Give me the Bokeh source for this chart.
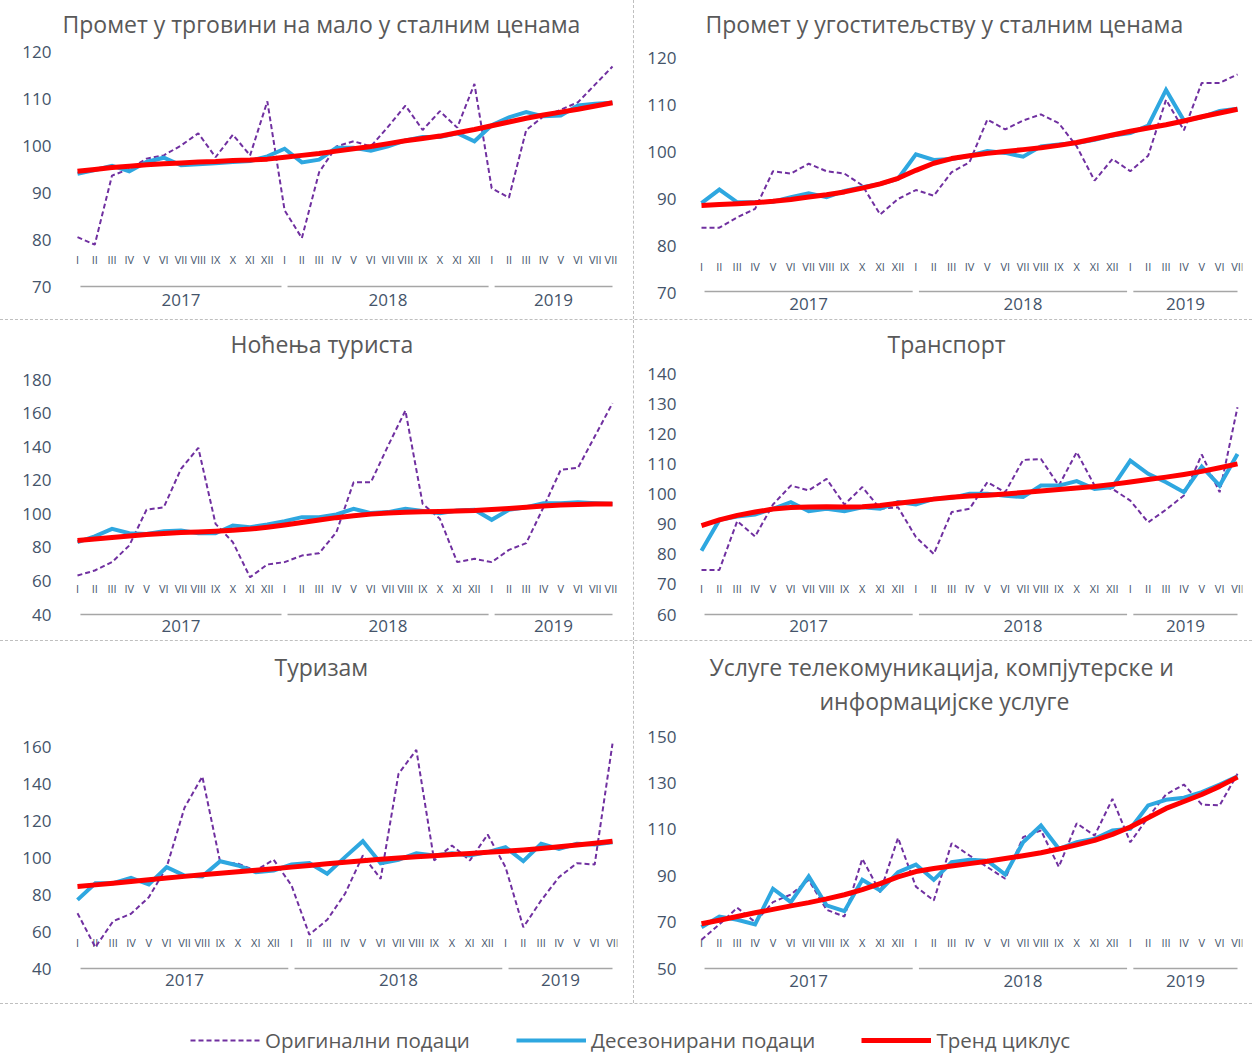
from bokeh.plotting import figure
from bokeh.models import Range1d, FixedTicker, Title, ColumnDataSource, Legend, LegendItem, Div
from bokeh.layouts import column, row
from bokeh.embed import file_html
from bokeh.resources import INLINE
from bokeh.core.properties import value

MONTHS = ["I", "II", "III", "IV", "V", "VI", "VII", "VIII", "IX", "X", "XI", "XII"]
YEARS = ["2017", "2018", "2019"]

# ---- Промет у трговини на мало (I 2017 - VIII 2019)
trade_orig = [80.5, 78.9, 93.6, 95.0, 97.2, 97.9, 100.0, 102.6, 97.5, 102.3, 97.9, 109.4,
              86.2, 80.3, 94.3, 99.8, 100.9, 99.8, 104.0, 108.5, 103.3, 107.3, 103.8, 113.1,
              90.9, 88.9, 103.3, 106.2, 107.6, 109.2, 113.0, 116.8]
trade_sa = [94.0, 94.8, 95.7, 94.5, 96.5, 97.4, 95.8, 96.0, 96.2, 96.5, 96.7, 97.7,
            99.3, 96.4, 97.0, 99.5, 99.5, 98.9, 99.8, 101.1, 101.8, 101.8, 102.6, 100.9,
            104.3, 106.0, 107.1, 106.2, 106.4, 108.5, 108.9, 109.1]
trade_trend = [94.5, 94.9, 95.3, 95.6, 95.9, 96.1, 96.3, 96.5, 96.6, 96.8, 96.9, 97.1,
               97.5, 97.9, 98.3, 98.8, 99.3, 99.8, 100.4, 101.0, 101.5, 102.0, 102.7, 103.4,
               104.2, 105.0, 105.8, 106.5, 107.1, 107.7, 108.4, 109.1]

# ---- Промет у угоститељству (I 2017 - VII 2019)
hosp_orig = [83.8, 83.8, 86.0, 87.8, 95.8, 95.3, 97.4, 95.8, 95.3, 92.8, 86.6, 89.9,
             91.8, 90.6, 95.6, 97.7, 106.8, 104.7, 106.6, 107.9, 106.0, 101.1, 93.8, 98.4,
             95.8, 99.1, 111.0, 104.5, 114.6, 114.6, 116.4]
hosp_sa = [89.0, 91.9, 89.2, 89.2, 89.3, 90.3, 91.1, 90.3, 91.6, 92.4, 93.1, 94.2,
           99.4, 98.2, 98.4, 99.1, 100.1, 99.7, 98.9, 101.1, 101.5, 101.8, 102.5, 103.4,
           103.9, 105.5, 113.1, 106.6, 107.3, 108.6, 109.1]
hosp_trend = [88.5, 88.7, 88.9, 89.1, 89.4, 89.8, 90.3, 90.8, 91.4, 92.2, 93.1, 94.3,
              96.0, 97.5, 98.5, 99.1, 99.6, 100.0, 100.4, 100.8, 101.3, 101.9, 102.7, 103.5,
              104.3, 105.0, 105.7, 106.5, 107.4, 108.2, 109.0]

# ---- Ноћења туриста (I 2017 - VIII 2019)
nights_orig = [63.2, 66.2, 71.2, 81.1, 102.4, 103.9, 126.8, 139.3, 94.0, 83.1, 62.2, 69.8,
               71.2, 75.1, 76.5, 89.0, 118.8, 118.8, 140.6, 161.5, 105.9, 97.0, 71.2, 73.2,
               71.2, 78.5, 82.5, 103.9, 126.2, 127.4, 146.6, 165.9]
nights_sa = [83.1, 86.5, 91.0, 88.4, 88.0, 89.6, 90.0, 88.4, 88.4, 93.0, 92.0, 93.6,
             95.6, 98.0, 98.0, 99.6, 103.0, 100.4, 101.0, 103.0, 101.6, 100.4, 102.0, 102.4,
             96.4, 102.4, 103.9, 106.3, 106.3, 106.9, 106.3, 105.9]
nights_trend = [84.1, 85.0, 85.9, 86.8, 87.7, 88.3, 88.8, 89.2, 89.6, 90.2, 90.9, 92.0,
                93.3, 94.8, 96.3, 97.7, 98.8, 99.8, 100.5, 100.9, 101.2, 101.4, 101.7, 102.0,
                102.6, 103.2, 103.9, 104.6, 105.2, 105.6, 105.8, 105.9]

# ---- Транспорт (I 2017 - VII 2019)
transp_orig = [74.8, 74.8, 91.0, 85.9, 96.5, 102.8, 101.2, 105.0, 96.5, 102.3, 95.1, 95.6,
               85.7, 80.1, 94.0, 95.1, 103.9, 100.6, 111.3, 111.6, 102.8, 113.9, 102.8, 101.7,
               97.8, 90.6, 94.8, 99.5, 113.1, 100.6, 128.8]
transp_sa = [81.2, 91.4, 92.5, 93.2, 95.1, 97.3, 94.3, 95.1, 94.3, 95.6, 95.1, 97.3,
             96.5, 98.4, 98.7, 100.1, 100.1, 99.4, 99.0, 102.8, 102.8, 104.3, 101.7, 102.3,
             111.1, 106.7, 103.9, 100.6, 109.1, 102.8, 113.3]
transp_trend = [89.5, 91.4, 92.9, 94.0, 95.0, 95.5, 95.7, 95.8, 95.7, 95.8, 96.2, 96.9,
                97.6, 98.3, 98.9, 99.3, 99.6, 100.0, 100.5, 101.0, 101.5, 102.0, 102.5, 103.2,
                104.0, 104.8, 105.6, 106.5, 107.5, 108.7, 110.0]

# ---- Туризам (I 2017 - VII 2019)
tour_orig = [69.9, 51.5, 65.6, 69.6, 78.5, 94.8, 126.9, 143.8, 97.5, 96.6, 93.0, 98.8,
             84.9, 58.3, 66.3, 80.4, 101.1, 88.5, 145.2, 158.2, 98.4, 106.5, 98.4, 112.4,
             94.8, 62.3, 76.8, 89.4, 96.9, 96.2, 161.5]
tour_sa = [77.1, 86.1, 86.1, 89.0, 85.4, 94.8, 90.3, 89.8, 98.0, 95.7, 92.1, 93.0,
           96.2, 97.0, 91.2, 100.2, 108.8, 96.9, 98.8, 102.3, 101.1, 102.3, 101.1, 102.9,
           105.6, 98.0, 107.4, 104.7, 107.4, 107.0, 108.3]
tour_trend = [84.3, 85.2, 86.1, 87.0, 88.0, 88.9, 89.8, 90.7, 91.5, 92.3, 93.1, 93.9,
              94.8, 95.7, 96.6, 97.4, 98.2, 99.0, 99.7, 100.4, 101.0, 101.6, 102.2, 102.8,
              103.4, 104.1, 104.9, 105.8, 106.7, 107.7, 108.8]

# ---- Услуге телекомуникација (I 2017 - VII 2019)
tel_orig = [62.4, 69.0, 76.2, 70.0, 78.6, 81.9, 88.2, 75.3, 72.4, 97.3, 82.9, 106.3,
            85.3, 79.3, 104.0, 98.7, 93.7, 88.7, 106.6, 109.5, 93.8, 112.6, 107.3, 123.1,
            104.4, 115.2, 125.0, 129.3, 120.7, 120.3, 133.9]
tel_sa = [67.8, 72.4, 71.0, 69.0, 84.4, 78.6, 89.7, 77.2, 74.7, 88.2, 83.6, 91.5,
          94.8, 88.2, 95.8, 96.9, 96.5, 90.5, 104.4, 111.6, 101.6, 104.4, 105.9, 109.5,
          110.2, 120.3, 122.7, 123.6, 126.0, 129.3, 132.8]
tel_trend = [69.3, 70.8, 72.4, 74.0, 75.5, 77.0, 78.4, 80.0, 81.8, 84.0, 86.6, 89.5,
             91.8, 93.1, 94.2, 95.2, 96.2, 97.4, 98.6, 99.9, 101.5, 103.3, 105.2, 107.8,
             111.0, 115.0, 119.0, 122.0, 125.0, 128.5, 132.5]

# title lines (top line first); a blank line keeps a one-line title high up
titles = [["Промет у трговини на мало у сталним ценама"],
          ["Промет у угоститељству у сталним ценама"],
          ["Ноћења туриста"],
          ["Транспорт"],
          ["Туризам", " "],
          ["Услуге телекомуникација, компјутерске и", "информацијске услуге"]]
ticks = [[70, 80, 90, 100, 110, 120], [70, 80, 90, 100, 110, 120],
         [40, 60, 80, 100, 120, 140, 160, 180], [60, 70, 80, 90, 100, 110, 120, 130, 140],
         [40, 60, 80, 100, 120, 140, 160], [50, 70, 90, 110, 130, 150]]
legend_labels = ["Оригинални подаци", "Десезонирани подаци", "Тренд циклус"]

FONT = "Open Sans"
PURPLE = "#7030A0"
BLUE = "#2EA7E0"
RED = "#FF0000"
TXT = "#44546A"
TITLE_C = "#595959"
GRAYLINE = "#A6A6A6"


def make_panel(title_lines, orig, sa, trend, tks, g):
    n = len(orig)
    idx = list(range(n))
    s = (g["x_last"] - g["x_first"]) / (n - 1)
    x0 = -(g["x_first"] - g["frame_left"]) / s
    x1 = (n - 1) + (g["frame_right"] - g["x_last"]) / s
    lo, hi = tks[0], tks[-1]
    k = (g["px_lo"] - g["px_hi"]) / (hi - lo)
    y0 = lo - (g["frame_bottom"] - g["px_lo"]) / k
    y1 = hi + (g["px_hi"] - g["frame_top"]) / k

    def py2v(py):
        return lo + (g["px_lo"] - py) / k

    p = figure(width=g["fig_w"], height=g["fig_h"], output_backend="svg", toolbar_location=None,
               x_range=Range1d(x0, x1), y_range=Range1d(y0, y1), x_axis_location=None,
               min_border_left=g["frame_left"] - g["fig_left"],
               min_border_right=g["fig_left"] + g["fig_w"] - g["frame_right"],
               min_border_top=g["frame_top"] - g["fig_top"],
               min_border_bottom=g["fig_top"] + g["fig_h"] - g["frame_bottom"],
               background_fill_color="white", border_fill_color="white")
    p.outline_line_color = None
    p.grid.visible = False
    ax = p.yaxis[0]
    ax.ticker = FixedTicker(ticks=tks)
    ax.axis_line_color = None
    ax.major_tick_line_color = None
    ax.minor_tick_line_color = None
    ax.major_label_standoff = g["frame_left"] - g["label_right"]
    ax.major_label_text_font = FONT
    ax.major_label_text_font_size = "17px"
    ax.major_label_text_color = TXT

    # titles: the line nearest the frame is added first
    for line, left, so in reversed(list(zip(title_lines, g["title_left"], g["standoff"]))):
        t = Title(text=line, align="left", text_font=FONT, text_font_size="23px",
                  text_font_style="normal", text_color=TITLE_C, standoff=so,
                  offset=left - g["frame_left"])
        p.add_layout(t, "above")

    # month labels
    mlabels = [MONTHS[i % 12] for i in idx]
    p.text(x=idx, y=[py2v(g["month_py"])] * n, text=mlabels, text_font=value(FONT),
           text_font_size="11px", text_color=TXT, text_align="center", text_baseline="middle")

    # year group lines and labels
    gx0, gx1, gc, gl = [], [], [], []
    for yi, yr in enumerate(YEARS):
        a = yi * 12
        if a > n - 1:
            break
        b = min(a + 11, n - 1)
        xa = a + 0.17
        xb = b + 0.82 if (b == a + 11 and b < n - 1) else n - 1
        gx0.append(xa)
        gx1.append(xb)
        gc.append((xa + xb) / 2)
        gl.append(yr)
    yl = py2v(g["line_py"])
    p.segment(x0=gx0, y0=[yl] * len(gx0), x1=gx1, y1=[yl] * len(gx0),
              line_color=GRAYLINE, line_width=1.5)
    p.text(x=gc, y=[py2v(g["year_py"])] * len(gc), text=gl, text_font=value(FONT),
           text_font_size="17px", text_color=TXT, text_align="center", text_baseline="middle")

    src = ColumnDataSource(dict(x=idx, o=orig, s=sa, t=trend))
    p.line("x", "o", source=src, line_color=PURPLE, line_width=2, line_dash="5 3")
    p.line("x", "s", source=src, line_color=BLUE, line_width=4, line_join="miter")
    p.line("x", "t", source=src, line_color=RED, line_width=5, line_join="round")
    return p


LEFT = dict(fig_left=0, fig_w=633, frame_left=72, frame_right=617, x_first=77, x_last=612,
            label_right=57)
RIGHT = dict(fig_left=634, fig_w=618, frame_left=696, frame_right=1242, x_first=701, x_last=1237,
             label_right=682)
ROW1 = dict(fig_top=0, fig_h=319, frame_top=44, frame_bottom=316)
ROW2 = dict(fig_top=320, fig_h=320, frame_top=364, frame_bottom=637)
ROW3 = dict(fig_top=641, fig_h=362, frame_top=716, frame_bottom=1000)

geoms = [
    dict(LEFT, **ROW1, px_lo=286, px_hi=51, month_py=259, year_py=299, line_py=286,
         title_left=[62], standoff=[9]),
    dict(RIGHT, **ROW1, px_lo=292, px_hi=57, month_py=266, year_py=303, line_py=291,
         title_left=[705], standoff=[9]),
    dict(LEFT, **ROW2, px_lo=614, px_hi=379, month_py=588, year_py=625, line_py=614,
         title_left=[230], standoff=[9]),
    dict(RIGHT, **ROW2, px_lo=614, px_hi=373, month_py=588, year_py=625, line_py=614,
         title_left=[887], standoff=[9]),
    dict(LEFT, **ROW3, px_lo=968, px_hi=746, month_py=942, year_py=979, line_py=968,
         title_left=[274, 274], standoff=[0, 0]),
    dict(RIGHT, **ROW3, px_lo=968, px_hi=736, month_py=942, year_py=980, line_py=968,
         title_left=[709, 819], standoff=[0, 0]),
]

series = [(trade_orig, trade_sa, trade_trend), (hosp_orig, hosp_sa, hosp_trend),
          (nights_orig, nights_sa, nights_trend), (transp_orig, transp_sa, transp_trend),
          (tour_orig, tour_sa, tour_trend), (tel_orig, tel_sa, tel_trend)]

panels = [make_panel(titles[i], *series[i], ticks[i], geoms[i]) for i in range(6)]


def vsep(h):
    return Div(text="", width=1, height=h, margin=0,
               styles={"border-left": "1px dashed #BFBFBF", "box-sizing": "border-box"})


def hsep():
    return Div(text="", width=1252, height=1, margin=0,
               styles={"border-top": "1px dashed #BFBFBF", "box-sizing": "border-box"})


# legend strip
lp = figure(width=1252, height=49, output_backend="svg", toolbar_location=None,
            x_range=Range1d(0, 1), y_range=Range1d(0, 1), x_axis_location=None,
            y_axis_location=None, min_border=0)
lp.outline_line_color = None
lp.grid.visible = False
lx = list(range(len(trade_orig)))
r1 = lp.line(lx, trade_orig, line_color=PURPLE, line_width=2, line_dash="5 3")
r2 = lp.line(lx, trade_sa, line_color=BLUE, line_width=4)
r3 = lp.line(lx, trade_trend, line_color=RED, line_width=5)
leg = Legend(items=[LegendItem(label=legend_labels[0], renderers=[r1]),
                    LegendItem(label=legend_labels[1], renderers=[r2]),
                    LegendItem(label=legend_labels[2], renderers=[r3])],
             orientation="horizontal", location=(190, -1), glyph_width=70, glyph_height=20,
             label_height=20, label_standoff=5, spacing=46, padding=0, margin=0,
             border_line_color=None, background_fill_alpha=0,
             label_text_font=FONT, label_text_font_size="20.5px", label_text_color=TITLE_C)
lp.add_layout(leg, "center")

layout = column(
    row(panels[0], vsep(319), panels[1]),
    hsep(),
    row(panels[2], vsep(320), panels[3]),
    hsep(),
    row(panels[4], vsep(362), panels[5]),
    hsep(),
    lp,
)

open("out.html", "w").write(file_html(layout, INLINE))
